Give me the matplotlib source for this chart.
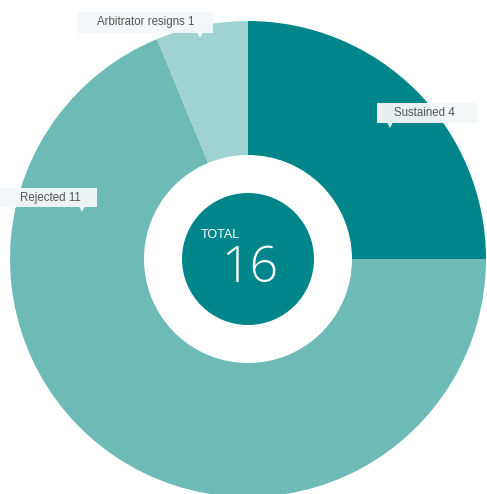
import matplotlib
matplotlib.use("Agg")
import matplotlib.pyplot as plt
from matplotlib.patches import Circle, Rectangle

categories = ["Sustained", "Rejected", "Arbitrator resigns"]
values = [4, 11, 1]
colors = ["#00868a", "#6dbab7", "#a0d2d2"]
total_label = "TOTAL"

W, H = 487, 494
fig = plt.figure(figsize=(W / 100, H / 100), dpi=100)
ax = fig.add_axes([0, 0, 1, 1])

cx, cy = 248, H - 259
R_out, R_in, R_core = 238, 104, 66

ax.pie(values, colors=colors, startangle=90, counterclock=False,
       radius=R_out, center=(cx, cy),
       wedgeprops=dict(width=R_out - R_in, linewidth=0))
ax.add_patch(Circle((cx, cy), R_core, facecolor="#00868a", edgecolor="none", zorder=3))

ax.text(201, H - 238, total_label, color="white", fontsize=9,
        family="Liberation Sans", ha="left", va="baseline", zorder=4)
ax.text(cx + 2, H - 282, str(sum(values)), color="white", fontsize=36,
        family="Open Sans", fontweight="light", ha="center", va="baseline", zorder=4)

# box (x0, y0_top, x1, y1_bottom), text center x, pointer x
label_layout = {
    "Arbitrator resigns": ((77, 12, 213, 33), 146, 200),
    "Sustained": ((377, 103, 477, 123), 424, 390),
    "Rejected": ((0, 188, 97, 207), 50, 82),
}
box_color = "#f4f7f7"
for name, val in zip(categories, values):
    (x0, y0, x1, y1), tx, px = label_layout[name]
    ax.add_patch(Rectangle((x0, H - y1), x1 - x0, y1 - y0, facecolor=box_color,
                           edgecolor="none", alpha=0.95, zorder=5))
    ax.text(tx, H - (y0 + y1) / 2, f"{name} {val}", color="#555555", fontsize=8.3,
            family="Liberation Sans", ha="center", va="center", zorder=6)
    ax.plot([px], [H - y1 - 2], marker="v", markersize=5, color=box_color,
            markeredgewidth=0, zorder=6)

ax.set_xlim(0, W)
ax.set_ylim(0, H)
ax.set_aspect("equal")
ax.set_axis_off()
fig.savefig("out.png", dpi=100, facecolor="white")
